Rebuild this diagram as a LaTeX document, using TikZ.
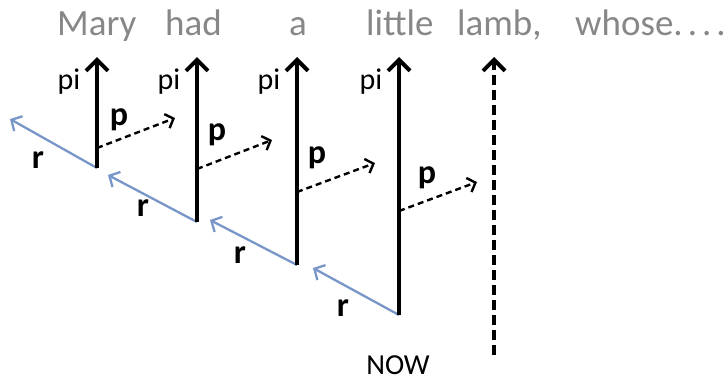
\documentclass[tikz,border=0pt]{standalone}
\usepackage{fontspec}
\setmainfont{Carlito}
\usetikzlibrary{arrows.meta}
\definecolor{wordgray}{RGB}{135,135,135}
\definecolor{rblue}{RGB}{120,150,200}
\tikzset{
  word/.style={anchor=base west, text=wordgray, font=\fontsize{37}{44}\selectfont, inner sep=0},
  pilab/.style={font=\fontsize{30}{36}\selectfont, inner sep=0},
  blab/.style={font=\fontsize{34}{40}\selectfont\bfseries, inner sep=0},
  nowlab/.style={anchor=base, font=\fontsize{29}{34}\selectfont, inner sep=0},
  piarrow/.style={line width=4pt, -{Straight Barb[length=11pt,width=22pt,line width=4pt]}},
  futarrow/.style={line width=4pt, dash pattern=on 10pt off 5pt, -{Straight Barb[length=11pt,width=22pt,line width=4pt]}},
  parrow/.style={line width=2.4pt, dash pattern=on 6pt off 4pt, -{Straight Barb[length=7pt,width=15pt,line width=2.4pt]}},
  rarrow/.style={line width=2.3pt, draw=rblue, -{Straight Barb[length=8pt,width=17pt,line width=2.3pt]}}
}
\begin{document}
\begin{tikzpicture}[x=1pt,y=-1pt]
\useasboundingbox (0,0) rectangle (727,381);
% words
\node[word] (w1) at (57,35) {Mary};
\node[word] (w2) at (165,35) {had};
\node[word] (w3) at (289,35) {a};
\node[word] (w4) at (366,35) {little};
\node[word] (w5) at (457,35) {lamb,};
\node[word] (w6) at (575,35) {whose.\kern5pt.\kern5pt.\kern5pt.};
% vertical arrow ends
\coordinate (b1) at (97,168);  \coordinate (t1) at (97,57);
\coordinate (b2) at (197,222); \coordinate (t2) at (197,57);
\coordinate (b3) at (297,265); \coordinate (t3) at (297,57);
\coordinate (b4) at (399,315); \coordinate (t4) at (399,57);
\coordinate (b5) at (494,355); \coordinate (t5) at (494,57);
% r ends
\coordinate (r1) at (10,119);
\coordinate (r2) at (108,175);
\coordinate (r3) at (210,220);
\coordinate (r4) at (313,268);
% p starts and ends
\coordinate (p1s) at (97,148);  \coordinate (p1e) at (175,118);
\coordinate (p2s) at (197,169); \coordinate (p2e) at (272,140);
\coordinate (p3s) at (297,192); \coordinate (p3e) at (375,163);
\coordinate (p4s) at (399,211); \coordinate (p4e) at (477,182);
% arrows
\draw[rarrow] (b1) -- (r1);
\draw[rarrow] (b2) -- (r2);
\draw[rarrow] (b3) -- (r3);
\draw[rarrow] (b4) -- (r4);
\draw[piarrow] (b1) -- (t1);
\draw[piarrow] (b2) -- (t2);
\draw[piarrow] (b3) -- (t3);
\draw[piarrow] (b4) -- (t4);
\draw[futarrow] (b5) -- (t5);
\draw[parrow] (p1s) -- (p1e);
\draw[parrow] (p2s) -- (p2e);
\draw[parrow] (p3s) -- (p3e);
\draw[parrow] (p4s) -- (p4e);
% labels
\node[pilab] (pi1) at (69,82) {pi};
\node[pilab] (pi2) at (169,82) {pi};
\node[pilab] (pi3) at (269,82) {pi};
\node[pilab] (pi4) at (371,82) {pi};
\node[blab] (pl1) at (119,120) {p};
\node[blab] (pl2) at (217,135) {p};
\node[blab] (pl3) at (317,158) {p};
\node[blab] (pl4) at (427,178) {p};
\node[blab] (rl1) at (38,160) {r};
\node[blab] (rl2) at (143,208) {r};
\node[blab] (rl3) at (240,255) {r};
\node[blab] (rl4) at (343,308) {r};
\node[nowlab] (now) at (398,374) {NOW};
\end{tikzpicture}
\end{document}
